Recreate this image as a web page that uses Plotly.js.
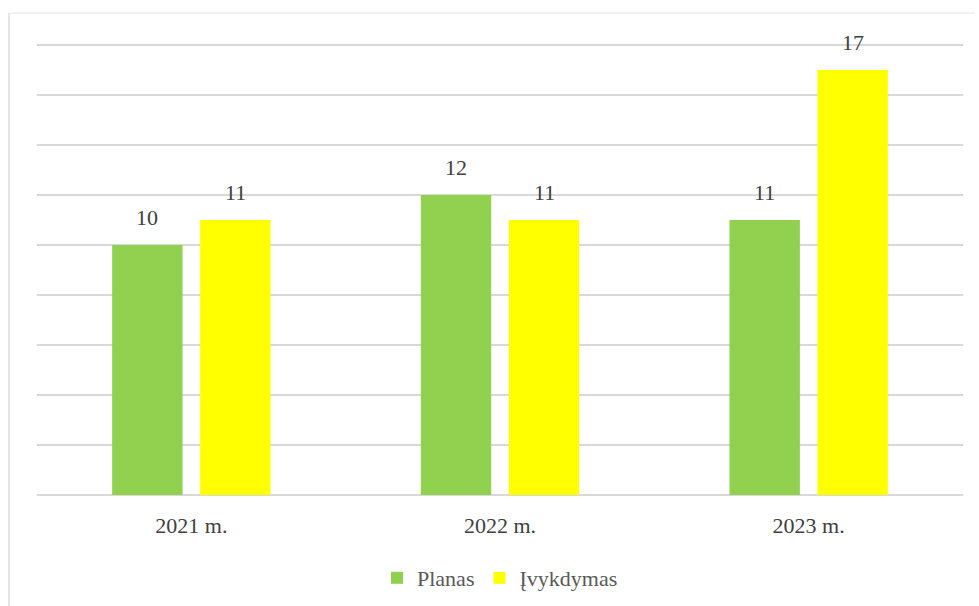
<!DOCTYPE html>
<html>
<head>
<meta charset="utf-8">
<script src="https://cdn.plot.ly/plotly-3.0.1.min.js"></script>
<style>html,body{margin:0;padding:0;background:#fff;}#chart{width:979px;height:606px;}</style>
</head>
<body>
<div id="chart"></div>
<script>
const categories = ["2021 m.", "2022 m.", "2023 m."];
const planas = [10, 12, 11];
const ivykdymas = [11, 11, 17];
const seriesNames = ["Planas", "Įvykdymas"];
const seriesColors = ["#92d050", "#ffff00"];

const W = 979, H = 606;
const margin = {l: 37, r: 16, t: 43, b: 111, autoexpand: false};
const pw = W - margin.l - margin.r, ph = H - margin.t - margin.b;
const FONT = 'Liberation Serif';

const traces = [planas, ivykdymas].map((vals, i) => ({
  type: 'bar',
  name: seriesNames[i],
  x: categories,
  y: vals,
  marker: {color: seriesColors[i]},
  hoverinfo: 'skip'
}));

const annotations = [];
[planas, ivykdymas].forEach((vals, i) => {
  vals.forEach((v, j) => {
    annotations.push({
      x: categories[j], y: v, xref: 'x', yref: 'y',
      text: String(v), showarrow: false,
      xshift: i === 0 ? -44 : 44, yanchor: 'bottom', yshift: 13,
      font: {family: FONT, size: 22, color: '#404040'}
    });
  });
});

const px = x => (x - margin.l) / pw;
const py = y => (H - margin.b - y) / ph;

const layout = {
  width: W, height: H,
  margin: margin,
  paper_bgcolor: '#ffffff', plot_bgcolor: '#ffffff',
  font: {family: FONT, size: 22, color: '#404040'},
  barmode: 'group', bargap: 0.43, bargroupgap: 0.2,
  showlegend: true,
  legend: {orientation: 'h', x: 0.5, xanchor: 'center', y: py(578), yanchor: 'middle',
           font: {family: FONT, size: 22, color: '#595959'},
           itemwidth: 30, tracegroupgap: 0},
  xaxis: {type: 'category', showgrid: false, zeroline: false, showline: false, ticks: '',
          tickfont: {family: FONT, size: 22, color: '#404040'},
          ticklabelstandoff: 15},
  yaxis: {range: [0, 18.08], tickvals: [0, 2, 4, 6, 8, 10, 12, 14, 16, 18], showgrid: true, gridcolor: '#d9d9d9', gridwidth: 1.5,
          zeroline: true, zerolinecolor: '#d9d9d9', zerolinewidth: 1.5,
          showticklabels: false, ticks: '', fixedrange: true},
  annotations: annotations,
  shapes: [
    {type: 'line', xref: 'paper', yref: 'paper', x0: px(9), x1: px(9), y0: py(13), y1: py(606), line: {color: '#e6e6e6', width: 2}},
    {type: 'line', xref: 'paper', yref: 'paper', x0: px(9), x1: px(975), y0: py(13), y1: py(13), line: {color: '#f2f2f2', width: 2}}
  ]
};

Plotly.newPlot('chart', traces, layout, {displayModeBar: false, staticPlot: true});
</script>
</body>
</html>
